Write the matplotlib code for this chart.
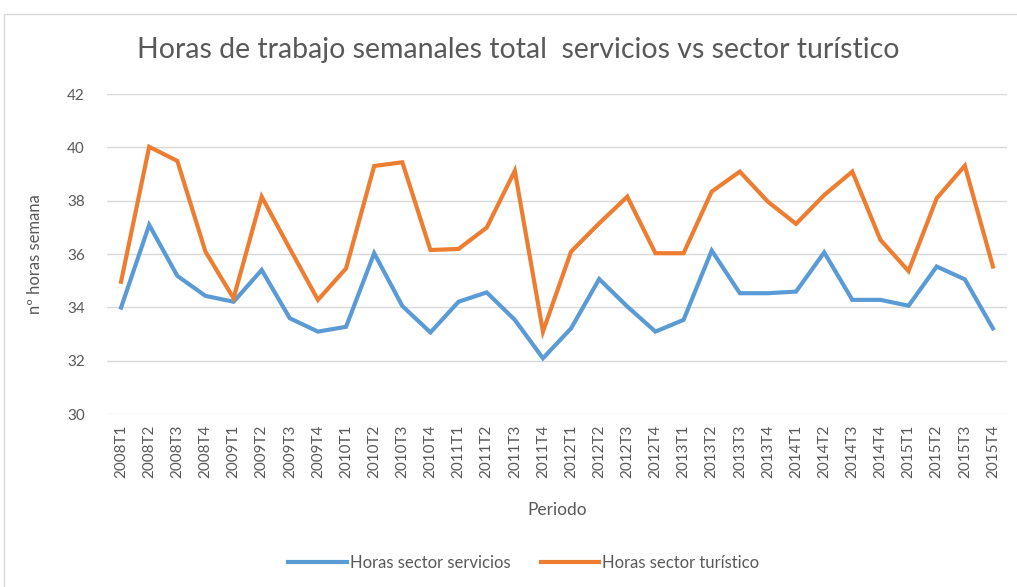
import matplotlib
matplotlib.use("Agg")
import matplotlib.pyplot as plt
from matplotlib.patches import Rectangle

# ------------------------------------------------------------
# data
# ------------------------------------------------------------
periods = [f"{y}T{q}" for y in range(2008, 2016) for q in range(1, 5)]

servicios = [
    33.99, 37.09, 35.18, 34.43, 34.21, 35.40, 33.59, 33.09,
    33.27, 36.03, 34.05, 33.06, 34.21, 34.56, 33.53, 32.09,
    33.21, 35.06, 34.03, 33.09, 33.53, 36.13, 34.53, 34.53,
    34.59, 36.06, 34.28, 34.28, 34.06, 35.53, 35.05, 33.21,
]

turistico = [
    34.96, 40.02, 39.49, 36.09, 34.34, 38.15, 36.20, 34.28,
    35.46, 39.30, 39.44, 36.15, 36.19, 36.99, 39.12, 33.09,
    36.09, 37.15, 38.15, 36.03, 36.03, 38.34, 39.09, 37.96,
    37.13, 38.21, 39.09, 36.53, 35.36, 38.09, 39.31, 35.53,
]

yticks = [30, 32, 34, 36, 38, 40, 42]

BLUE = "#5B9BD5"
ORANGE = "#ED7D31"
GREY_TXT = "#595959"
GRID = "#D9D9D9"

plt.rcParams["font.family"] = ["Lato", "DejaVu Sans"]

fig = plt.figure(figsize=(10.17, 5.87), dpi=100)

# chart frame (only top/left edges visible in the reference)
fig.patches.append(Rectangle((4 / 1017, -0.05), 1.2, 1 - 14 / 587 + 0.05,
                             transform=fig.transFigure, fill=False,
                             edgecolor="#D9D9D9", linewidth=1.0))

ax = fig.add_axes([107 / 1017, 173 / 587, 900 / 1017, 320 / 587])

x = list(range(len(periods)))
ax.plot(x, servicios, color=BLUE, linewidth=3.0, label="Horas sector servicios",
        solid_joinstyle="miter")
ax.plot(x, turistico, color=ORANGE, linewidth=3.0, label="Horas sector turístico",
        solid_joinstyle="miter")

ax.set_xlim(-0.5, len(periods) - 0.5)
ax.set_ylim(30, 42)
ax.set_yticks(yticks)
ax.set_xticks(x)
ax.set_xticklabels(periods, rotation=90, fontsize=11, color=GREY_TXT)
ax.tick_params(axis="y", labelsize=11, labelcolor=GREY_TXT, length=0, pad=16)
ax.tick_params(axis="x", length=0, pad=8)

ax.grid(axis="y", color=GRID, linewidth=1.0)
ax.set_axisbelow(True)
for s in ax.spines.values():
    s.set_visible(False)

ax.set_ylabel("nº horas semana", fontsize=12, color=GREY_TXT, labelpad=17)
ax.set_xlabel("Periodo", fontsize=12.5, color=GREY_TXT, labelpad=17)

fig.text(518 / 1017, 1 - 50 / 587, "Horas de trabajo semanales total  servicios vs sector turístico",
         ha="center", va="center", fontsize=20.5, color=GREY_TXT)

fig.legend(loc="center", bbox_to_anchor=(524 / 1017, 1 - 563 / 587), ncol=2,
           frameon=False, fontsize=12, labelcolor=GREY_TXT, handlelength=3.5,
           columnspacing=1.8, handletextpad=0.2)

fig.savefig("out.png", dpi=100)
